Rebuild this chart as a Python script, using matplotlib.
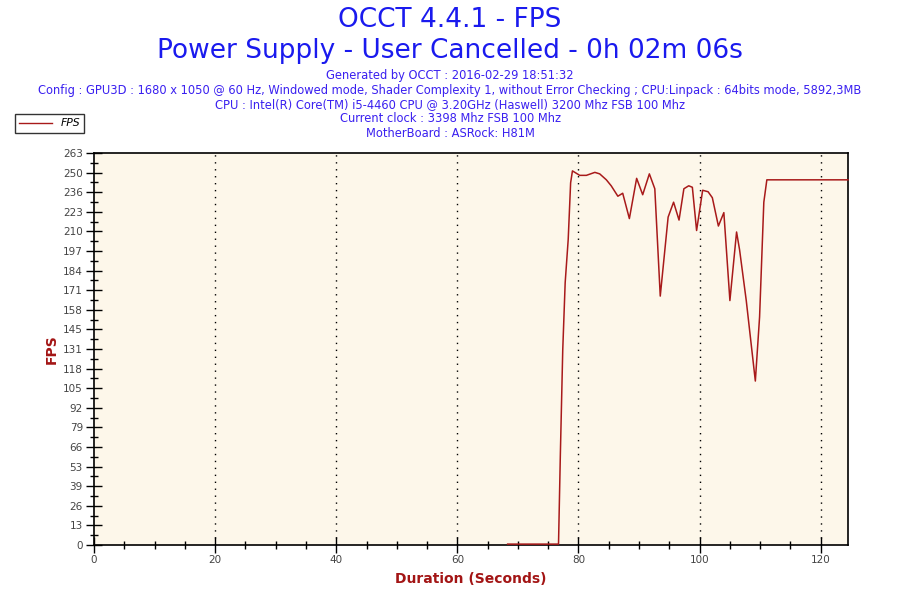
import numpy as np
import matplotlib
matplotlib.use("Agg")
import matplotlib.pyplot as plt
from matplotlib.lines import Line2D

# FPS trace (seconds, fps)
t_sec = [68.3, 75.1, 76.7, 77.0, 77.4, 77.8, 78.3, 78.7, 79.0, 80.2, 81.3, 82.7,
         83.5, 84.6, 85.4, 86.5, 87.3, 88.4, 89.6, 90.6, 91.7, 92.6, 93.5, 94.8,
         95.7, 96.6, 97.4, 98.2, 98.8, 99.5, 100.5, 101.4, 102.1, 103.1, 104.0,
         105.0, 106.1, 106.6, 107.7, 109.2, 109.9, 110.6, 111.1, 124.5]
fps = [0.6, 0.6, 0.6, 60, 131, 176, 205, 243, 251, 248, 248, 250,
       249, 245, 241, 234, 236, 219, 246, 235, 249, 239, 167, 220,
       230, 218, 239, 241, 240, 211, 238, 237, 233, 214, 223,
       164, 210, 198, 164, 110, 153, 230, 245, 245]

y_ticks = [0, 13, 26, 39, 53, 66, 79, 92, 105, 118, 131, 145, 158, 171, 184,
           197, 210, 223, 236, 250, 263]
x_ticks = [0, 20, 40, 60, 80, 100, 120]

title1 = "OCCT 4.4.1 - FPS"
title2 = "Power Supply - User Cancelled - 0h 02m 06s"
info_lines = [
    "Generated by OCCT : 2016-02-29 18:51:32",
    "Config : GPU3D : 1680 x 1050 @ 60 Hz, Windowed mode, Shader Complexity 1, without Error Checking ; CPU:Linpack : 64bits mode, 5892,3MB",
    "CPU : Intel(R) Core(TM) i5-4460 CPU @ 3.20GHz (Haswell) 3200 Mhz FSB 100 Mhz",
    "Current clock : 3398 Mhz FSB 100 Mhz",
    "MotherBoard : ASRock: H81M",
]

line_col = "#a81a1a"
label_col = "#a31515"
blue = "#1a1aee"
sub_blue = "#3a20f0"

fig = plt.figure(figsize=(9, 6), dpi=100)
ax = fig.add_axes([94 / 900, 55 / 600, 754 / 900, 392 / 600])
ax.set_facecolor("#fdf7ea")

ax.plot(t_sec, fps, color=line_col, lw=1.1, zorder=4, clip_on=False)

ax.set_xlim(0, 124.5)
ax.set_ylim(0, 263)

ypos = np.linspace(0, 263, len(y_ticks))
ax.set_yticks(ypos)
ax.set_yticklabels([str(v) for v in y_ticks])
ax.set_yticks((ypos[:-1] + ypos[1:]) / 2, minor=True)
ax.set_xticks(x_ticks)
ax.set_xticks(np.arange(0, 125, 5), minor=True)

ax.tick_params(which="major", direction="inout", length=12, width=1,
               labelsize=7.5, labelcolor="#444444", pad=2)
ax.tick_params(which="minor", direction="inout", length=6, width=1)
ax.tick_params(axis="x", which="major", pad=1)

for xv in x_ticks[1:]:
    ax.axvline(xv, color="black", lw=1, ls=(0, (1, 4)))

for s in ax.spines.values():
    s.set_linewidth(1.2)

ax.set_ylabel("FPS", color=label_col, fontsize=10, fontweight="bold", labelpad=3)
ax.set_xlabel("Duration (Seconds)", color=label_col, fontsize=10, fontweight="bold", labelpad=5)

fig.text(0.5, 1 - 20 / 600, title1, ha="center", va="center", color=blue, fontsize=19)
fig.text(0.5, 1 - 51 / 600, title2, ha="center", va="center", color=blue, fontsize=19)
for i, line in enumerate(info_lines):
    fig.text(0.5, 1 - (76 + i * 14.3) / 600, line, ha="center", va="center",
             color=sub_blue, fontsize=8.3)

# legend box
leg_handle = Line2D([], [], color=line_col, lw=1)
leg = fig.legend([leg_handle], ["FPS"], loc="upper left",
                 bbox_to_anchor=(15 / 900, 1 - 114 / 600), frameon=True,
                 fancybox=False, fontsize=7.8, handlelength=3.0,
                 borderpad=0.4, borderaxespad=0)
leg.get_frame().set_edgecolor("black")
leg.get_frame().set_linewidth(1)
for txt in leg.get_texts():
    txt.set_fontstyle("italic")

fig.savefig("out.png", dpi=100)
